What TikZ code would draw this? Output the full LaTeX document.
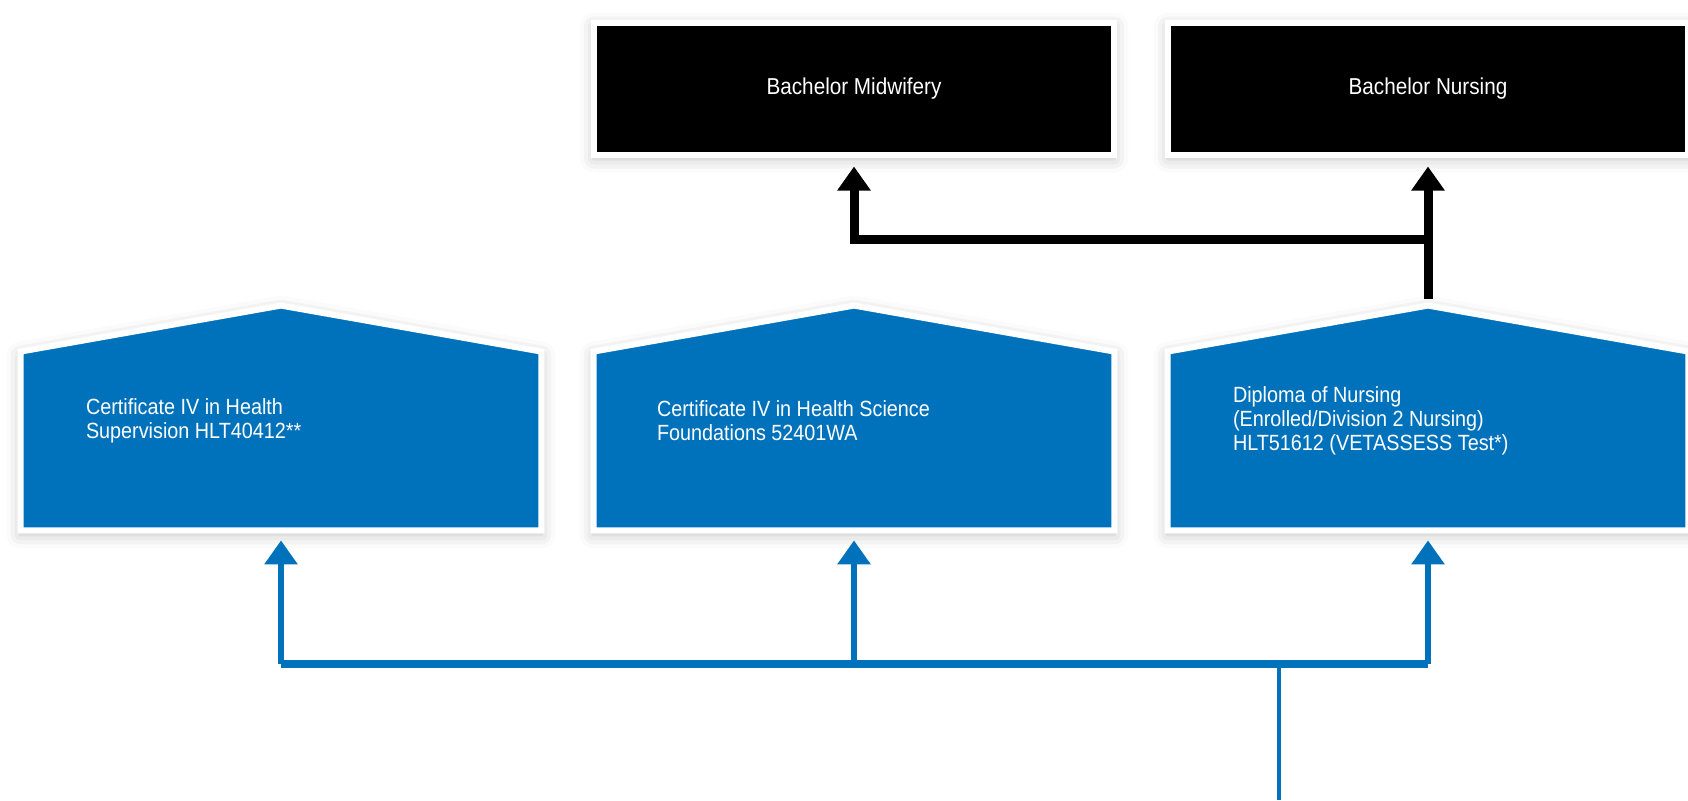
\documentclass[tikz,border=0pt]{standalone}
\usepackage{fontspec}
\newfontfamily\boxfont[FakeStretch=0.9]{Liberation Sans}
\usepackage[dvipsnames]{xcolor}
\usepackage{tikz}
\usetikzlibrary{calc, positioning, arrows.meta, shadows.blur}

\definecolor{pathblue}{RGB}{0,114,187}

\begin{document}
\begin{tikzpicture}[x=0.5pt, y=-0.5pt,
        soft/.style={blur shadow={shadow xshift=0pt, shadow yshift=-2pt, shadow blur radius=7pt, shadow opacity=25}},
        degree/.style={fill=black, draw=white, line width=3pt, soft, text=white, minimum width=260pt, minimum height=66pt, inner sep=0pt, font=\boxfont\fontsize{11.5}{13}\selectfont},
        frame/.style={minimum width=260pt, minimum height=89pt, inner sep=0pt},
        house/.style={fill=pathblue, draw=white, line width=3pt, line join=miter, soft},
        course/.style={text=white, align=left, inner sep=0pt, font=\boxfont\fontsize{11}{12}\selectfont},
        link/.style={line width=4.5pt, black, -{Triangle[width=16pt, length=12pt]}},
        feed/.style={line width=3pt, pathblue, -{Triangle[width=16pt, length=12pt]}}]
    \useasboundingbox (0,0) rectangle (1688,800);

    % bachelor degrees
    \node[degree] (midwife) at (854,88.5) {Bachelor Midwifery};
    \node[degree] (nursing) at (1428,88.5) {Bachelor Nursing};

    % vocational courses
    \node[frame] (cert) at (281,441) {};
    \node[frame] (found) at (854,441) {};
    \node[frame] (dip) at (1428,441) {};
    \coordinate (cert-roof) at ($(cert.north)+(0,-46)$);
    \coordinate (found-roof) at ($(found.north)+(0,-46)$);
    \coordinate (dip-roof) at ($(dip.north)+(0,-46)$);
    \foreach \n in {cert, found, dip}
        \filldraw[house] (\n.south west) -- (\n.north west) -- (\n-roof) -- (\n.north east) -- (\n.south east) -- cycle;
    \node[course, anchor=west] (cert-txt) at ($(cert.west)+(65,-20)$) {Certificate IV in Health\\Supervision HLT40412**};
    \node[course, anchor=west] (found-txt) at ($(found.west)+(63,-20)$) {Certificate IV in Health Science\\Foundations 52401WA};
    \node[course, anchor=west] (dip-txt) at ($(dip.west)+(65,-20)$) {Diploma of Nursing\\(Enrolled/Division 2 Nursing)\\HLT51612 (VETASSESS Test*)};

    % black links up to the degrees
    \coordinate (upfork) at (dip-roof |- 0,239);
    \draw[line width=4.5pt, black] ($(dip-roof)+(0,-7)$) -- (upfork);
    \draw[link] (upfork) -- ($(nursing.south)+(0,9)$);
    \draw[link] (upfork) -| ($(midwife.south)+(0,9)$);

    % blue feed from below
    \coordinate (entry) at (1279,800);
    \coordinate (split) at (1279,664);
    \draw[line width=2.4pt, pathblue] (entry) -- (split);
    \draw[line width=4.3pt, pathblue] (cert.south |- split) -- (dip.south |- split);
    \foreach \n in {cert, found, dip}
        \draw[feed] (\n.south |- split) -- ($(\n.south)+(0,10)$);
\end{tikzpicture}
\end{document}
